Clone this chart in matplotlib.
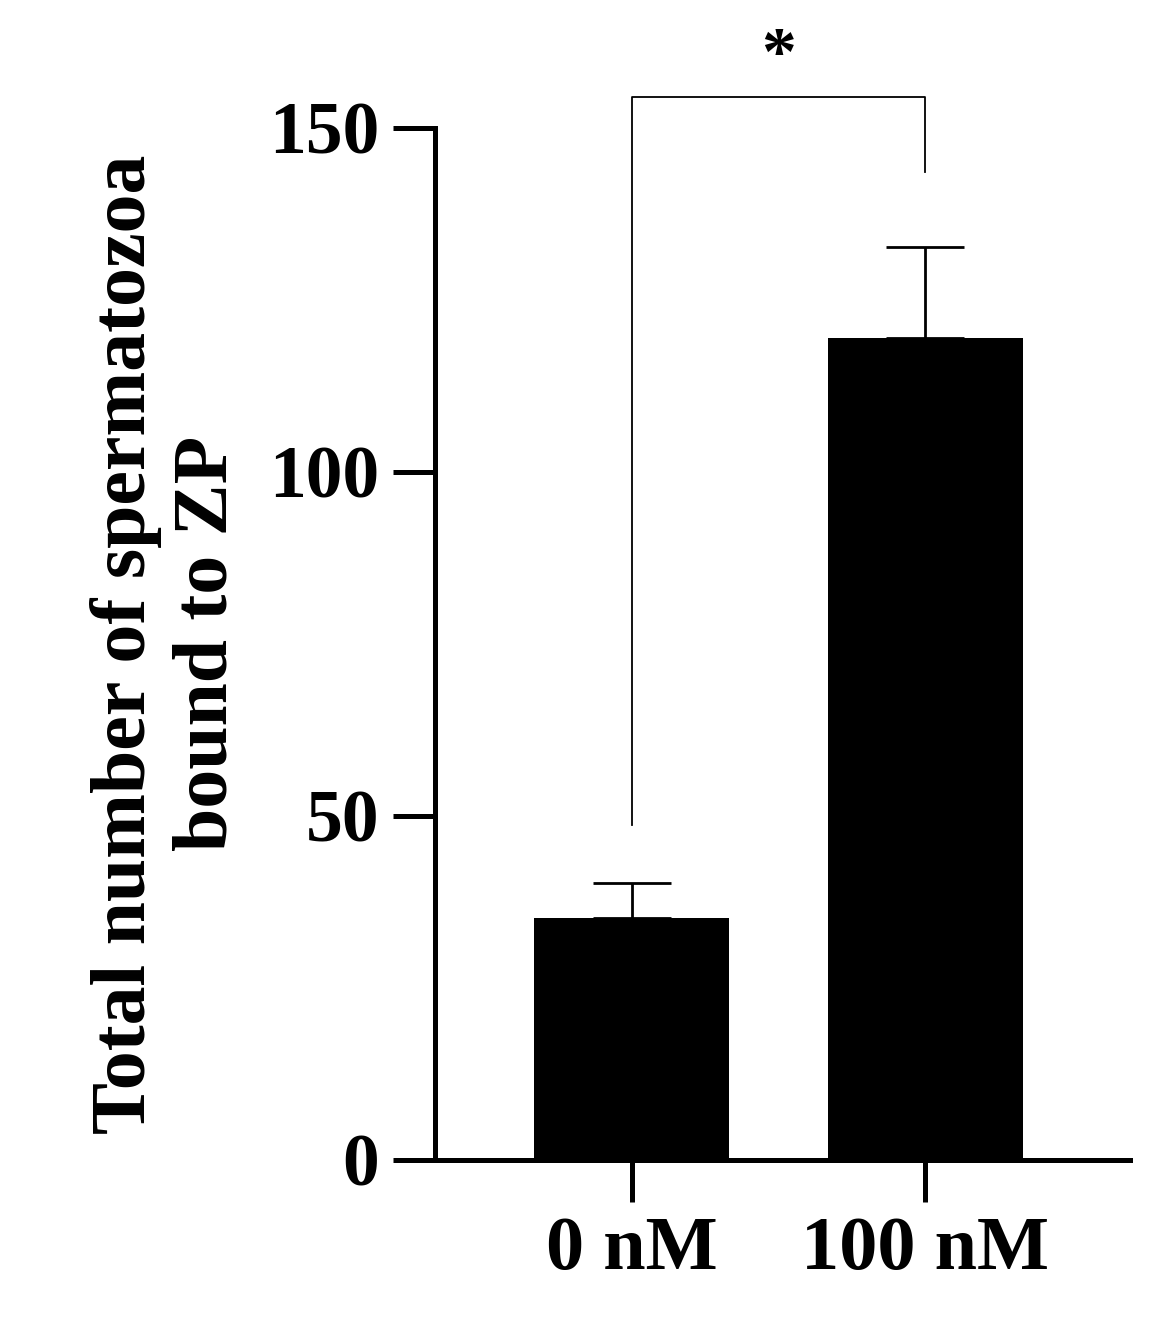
import matplotlib
matplotlib.use("Agg")
import matplotlib.pyplot as plt

categories = ["0 nM", "100 nM"]
means = [35.2, 119.5]
errors = [5.1, 13.2]
yticks = [0, 50, 100, 150]
ylabel = "Total number of spermatozoa\nbound to ZP"

plt.rcParams['font.family'] = ['Liberation Serif', 'DejaVu Serif']
plt.rcParams['font.weight'] = 'bold'

fig = plt.figure(figsize=(11.5, 13.31), dpi=100)
ax = fig.add_axes([0.378, 0.1285, 0.605, 0.7755])
x = list(range(len(categories)))
ax.bar(x, means, width=0.665, color='black')
for xi, m, e in zip(x, means, errors):
    ax.errorbar(xi, m, yerr=[[0], [e]], color='black', capsize=28, capthick=2, elinewidth=2)
ax.set_xlim(-0.672, 1.70)
ax.set_ylim(0, 150)
ax.set_yticks(yticks)
ax.set_xticks(x)
ax.set_xticklabels(categories)
for s in ['top', 'right']:
    ax.spines[s].set_visible(False)
for s in ['left', 'bottom']:
    ax.spines[s].set_linewidth(3.6)
ax.tick_params(axis='both', width=3.6, length=30, pad=10)
ax.tick_params(axis='y', labelsize=53)
ax.tick_params(axis='x', labelsize=55)
for lab in ax.get_xticklabels() + ax.get_yticklabels():
    lab.set_fontweight('bold')
ax.set_ylabel(ylabel, fontsize=56, fontweight='bold', labelpad=18)

# significance bracket
ax.plot([0, 0, 1, 1], [48.7, 154.5, 154.5, 143.6], color='black', lw=1.3, clip_on=False)
ax.text(0.5, 155.5, "*", ha='center', va='bottom', fontsize=50, fontweight='bold')

fig.savefig("out.png", dpi=100)
